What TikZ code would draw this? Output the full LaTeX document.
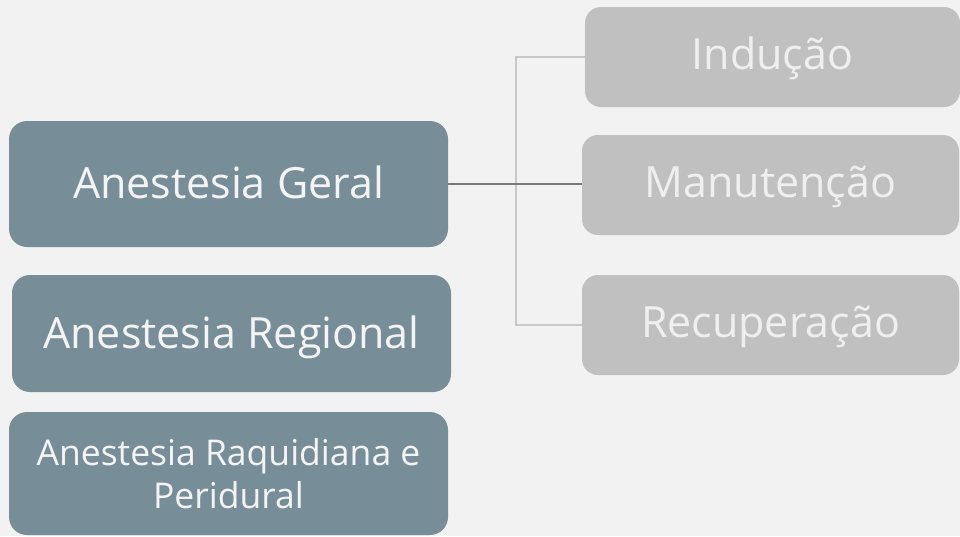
\documentclass[tikz,border=0pt]{standalone}
\usepackage{fontspec}
\setmainfont{Open Sans}
\definecolor{bg}{HTML}{F2F2F2}
\definecolor{slate}{HTML}{778E99}
\definecolor{lgray}{HTML}{C0C0C0}
\definecolor{ltext}{HTML}{EFEFEF}
\definecolor{wtext}{HTML}{F4F4F4}
\definecolor{darkline}{HTML}{7A7A7A}
\definecolor{lightline}{HTML}{C8C8C8}
\begin{document}
\begin{tikzpicture}[x=1pt,y=-1pt,
  leftbox/.style={fill=slate,rounded corners=18pt,inner sep=0pt,text=wtext,align=center,
    minimum width=439pt,font=\fontsize{43}{44}\selectfont},
  onelineleft/.style={text height=31pt,text depth=2pt},
  rightbox/.style={fill=lgray,rounded corners=16pt,inner sep=0pt,text=ltext,align=center,
    minimum height=100pt,font=\fontsize{43}{44}\selectfont,text height=31pt,text depth=7pt},
  darkconn/.style={draw=darkline,line width=1.3pt},
  lightconn/.style={draw=lightline,line width=1.3pt}]
\fill[bg] (0,0) rectangle (960,536);
\useasboundingbox (0,0) rectangle (960,536);
\node[leftbox,onelineleft,minimum height=126pt] (geral) at (228.5,184) {Anestesia Geral};
\node[leftbox,onelineleft,minimum height=117pt] (regional) at (231.5,333.5) {Anestesia Regional};
\node[leftbox,minimum height=123pt,font=\fontsize{35.5}{43}\selectfont] (raqui) at (228.5,473.5) {Anestesia Raquidiana e\\Peridural};
\node[rightbox,minimum width=375pt] (inducao) at (772.5,57) {Indução};
\node[rightbox,minimum width=377pt] (manut) at (770.5,185) {Manutenção};
\node[rightbox,minimum width=377pt] (recup) at (770.5,325) {Recuperação};
\coordinate (j) at (516,184.5);
\draw[lightconn] (j) |- (inducao.west);
\draw[lightconn] (j) |- (recup.west);
\draw[darkconn] (geral.east) -- (geral.east -| manut.west);
\end{tikzpicture}
\end{document}
